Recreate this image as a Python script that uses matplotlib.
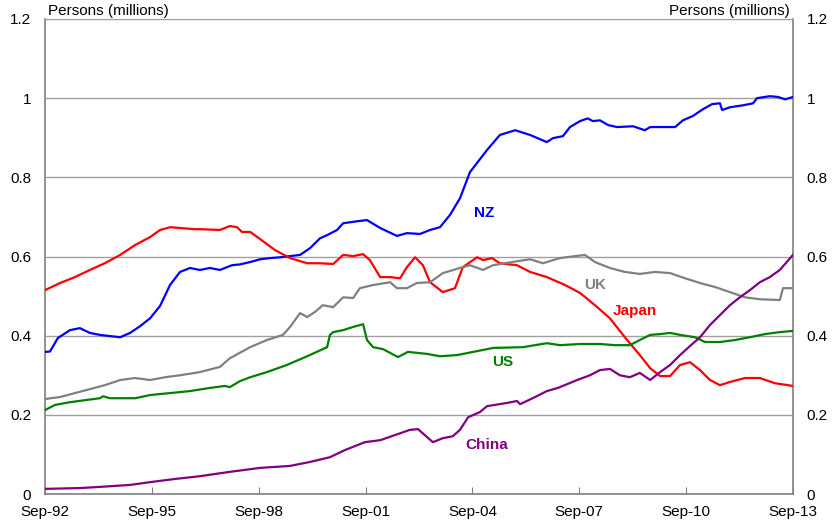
"""
Chart: persons (millions) by country of birth, Sep-92 to Sep-13.
Outputs: out.png
"""

import matplotlib.pyplot as plt

# ── Data (decimal years, millions of persons) ─────────────────────────────────
NZ_T = [1992.75, 1992.89, 1993.11, 1993.45, 1993.73, 1994.01, 1994.29, 1994.57,
        1994.86, 1995.14, 1995.42, 1995.70, 1995.98, 1996.26, 1996.54, 1996.82,
        1997.10, 1997.38, 1997.66, 1998.00, 1998.22, 1998.51, 1998.79, 1999.07,
        1999.35, 1999.91, 2000.19, 2000.47, 2000.67, 2000.95, 2001.12, 2001.51,
        2001.79, 2002.16, 2002.63, 2002.91, 2003.28, 2003.56, 2003.84, 2004.12,
        2004.40, 2004.68, 2005.16, 2005.52, 2005.95, 2006.37, 2006.84, 2007.01,
        2007.29, 2007.49, 2007.77, 2007.99, 2008.13, 2008.33, 2008.56, 2008.81,
        2009.26, 2009.59, 2009.74, 2010.10, 2010.44, 2010.66, 2010.94, 2011.22,
        2011.48, 2011.70, 2011.76, 2011.98, 2012.35, 2012.63, 2012.74, 2013.10,
        2013.33, 2013.53, 2013.75]
NZ_V = [0.359, 0.360, 0.394, 0.414, 0.419, 0.407, 0.402, 0.399,
        0.396, 0.407, 0.424, 0.444, 0.475, 0.528, 0.561, 0.571,
        0.566, 0.571, 0.566, 0.578, 0.580, 0.586, 0.593, 0.596,
        0.598, 0.604, 0.621, 0.646, 0.654, 0.667, 0.684, 0.689,
        0.692, 0.672, 0.652, 0.659, 0.657, 0.667, 0.674, 0.705,
        0.747, 0.813, 0.869, 0.907, 0.919, 0.907, 0.889, 0.899,
        0.904, 0.927, 0.942, 0.949, 0.942, 0.944, 0.932, 0.927,
        0.929, 0.919, 0.927, 0.927, 0.927, 0.944, 0.955, 0.972,
        0.985, 0.987, 0.970, 0.977, 0.982, 0.987, 1.000, 1.005,
        1.003, 0.997, 1.003]

JAPAN_T = [1992.75, 1993.17, 1993.59, 1994.01, 1994.43, 1994.86, 1995.28, 1995.70,
           1995.98, 1996.26, 1996.54, 1996.96, 1997.10, 1997.66, 1997.94, 1998.14,
           1998.28, 1998.51, 1998.79, 1999.21, 1999.63, 2000.11, 2000.47, 2000.84,
           2001.12, 2001.40, 2001.68, 2001.87, 2002.16, 2002.44, 2002.72, 2002.91,
           2003.14, 2003.36, 2003.56, 2003.92, 2004.26, 2004.48, 2004.88, 2005.05,
           2005.30, 2005.52, 2006.00, 2006.37, 2006.84, 2007.35, 2007.77, 2008.19,
           2008.61, 2009.03, 2009.45, 2009.74, 2010.02, 2010.30, 2010.58, 2010.86,
           2011.14, 2011.42, 2011.70, 2011.98, 2012.40, 2012.82, 2013.24, 2013.75]
JAPAN_V = [0.515, 0.533, 0.548, 0.566, 0.583, 0.604, 0.629, 0.649,
           0.667, 0.674, 0.672, 0.669, 0.669, 0.667, 0.677, 0.674,
           0.662, 0.662, 0.644, 0.616, 0.596, 0.583, 0.583, 0.581,
           0.604, 0.601, 0.606, 0.591, 0.548, 0.548, 0.545, 0.573,
           0.598, 0.578, 0.535, 0.510, 0.520, 0.573, 0.598, 0.591,
           0.596, 0.583, 0.578, 0.561, 0.548, 0.528, 0.508, 0.477,
           0.444, 0.396, 0.351, 0.318, 0.298, 0.298, 0.326, 0.333,
           0.313, 0.288, 0.275, 0.283, 0.293, 0.293, 0.280, 0.273]

UK_T = [1992.75, 1993.17, 1993.59, 1994.01, 1994.43, 1994.86, 1995.28, 1995.70,
        1996.12, 1996.54, 1997.10, 1997.66, 1997.94, 1998.51, 1998.98, 1999.43,
        1999.63, 1999.91, 2000.11, 2000.33, 2000.55, 2000.84, 2001.12, 2001.40,
        2001.59, 2001.96, 2002.44, 2002.63, 2002.91, 2003.19, 2003.56, 2003.92,
        2004.40, 2004.68, 2005.05, 2005.33, 2006.00, 2006.37, 2006.73, 2007.21,
        2007.63, 2007.91, 2008.19, 2008.61, 2009.03, 2009.45, 2009.88, 2010.30,
        2010.72, 2011.14, 2011.56, 2011.98, 2012.40, 2012.82, 2013.38, 2013.47,
        2013.75]
UK_V = [0.240, 0.245, 0.255, 0.265, 0.275, 0.288, 0.293, 0.288,
        0.295, 0.300, 0.308, 0.321, 0.343, 0.371, 0.389, 0.402,
        0.422, 0.457, 0.447, 0.460, 0.477, 0.472, 0.497, 0.495,
        0.520, 0.528, 0.535, 0.520, 0.520, 0.533, 0.535, 0.558,
        0.571, 0.578, 0.566, 0.578, 0.588, 0.593, 0.583, 0.596,
        0.601, 0.604, 0.586, 0.571, 0.561, 0.556, 0.561, 0.558,
        0.545, 0.533, 0.523, 0.510, 0.497, 0.492, 0.490, 0.520,
        0.520]

US_T = [1992.75, 1993.03, 1993.45, 1993.87, 1994.29, 1994.38, 1994.57, 1995.28,
        1995.70, 1996.26, 1996.82, 1997.38, 1997.80, 1997.94, 1998.22, 1998.51,
        1998.98, 1999.54, 2000.11, 2000.67, 2000.75, 2000.84, 2001.12, 2001.40,
        2001.68, 2001.79, 2001.96, 2002.24, 2002.66, 2002.94, 2003.47, 2003.84,
        2004.32, 2004.77, 2005.33, 2006.17, 2006.84, 2007.21, 2007.77, 2008.33,
        2008.75, 2009.17, 2009.45, 2009.74, 2010.02, 2010.30, 2010.58, 2011.00,
        2011.28, 2011.70, 2012.12, 2012.54, 2012.96, 2013.38, 2013.75]
US_V = [0.212, 0.225, 0.232, 0.237, 0.242, 0.247, 0.242, 0.242,
        0.250, 0.255, 0.260, 0.268, 0.273, 0.270, 0.285, 0.295,
        0.308, 0.326, 0.348, 0.371, 0.402, 0.409, 0.414, 0.422,
        0.429, 0.389, 0.371, 0.366, 0.346, 0.359, 0.354, 0.348,
        0.351, 0.359, 0.369, 0.371, 0.381, 0.376, 0.379, 0.379,
        0.376, 0.376, 0.389, 0.402, 0.404, 0.407, 0.402, 0.396,
        0.384, 0.384, 0.389, 0.396, 0.404, 0.409, 0.412]

CHINA_T = [1992.75, 1993.73, 1994.29, 1995.14, 1995.70, 1996.40, 1997.10, 1997.94,
           1998.79, 1999.63, 2000.19, 2000.75, 2001.17, 2001.73, 2002.16, 2002.58,
           2002.99, 2003.22, 2003.64, 2003.92, 2004.20, 2004.40, 2004.63, 2004.96,
           2005.16, 2005.72, 2006.00, 2006.09, 2006.51, 2006.84, 2007.15, 2007.69,
           2008.05, 2008.33, 2008.61, 2008.89, 2009.17, 2009.45, 2009.74, 2010.02,
           2010.30, 2010.58, 2010.86, 2011.14, 2011.42, 2011.70, 2011.98, 2012.26,
           2012.54, 2012.82, 2013.10, 2013.38, 2013.75]
CHINA_V = [0.013, 0.015, 0.018, 0.023, 0.030, 0.038, 0.045, 0.056,
           0.066, 0.071, 0.081, 0.093, 0.111, 0.131, 0.136, 0.149,
           0.162, 0.164, 0.131, 0.141, 0.146, 0.162, 0.194, 0.207,
           0.222, 0.230, 0.235, 0.227, 0.245, 0.260, 0.268, 0.288,
           0.300, 0.313, 0.316, 0.300, 0.295, 0.306, 0.288, 0.308,
           0.326, 0.351, 0.374, 0.396, 0.427, 0.452, 0.477, 0.497,
           0.515, 0.535, 0.548, 0.566, 0.604]

TICK_YEARS  = [1992.75, 1995.75, 1998.75, 2001.75, 2004.75, 2007.75, 2010.75, 2013.75]
TICK_LABELS = ["Sep-92", "Sep-95", "Sep-98", "Sep-01", "Sep-04", "Sep-07",
               "Sep-10", "Sep-13"]
Y_TICKS     = [0, 0.2, 0.4, 0.6, 0.8, 1.0, 1.2]
Y_LABELS    = ["0", "0.2", "0.4", "0.6", "0.8", "1", "1.2"]

SERIES = [
    ("NZ",    NZ_T,    NZ_V,    "#0000FF", (2005.07, 0.710)),
    ("Japan", JAPAN_T, JAPAN_V, "#FF0000", (2009.31, 0.462)),
    ("UK",    UK_T,    UK_V,    "#808080", (2008.19, 0.528)),
    ("US",    US_T,    US_V,    "#008000", (2005.61, 0.333)),
    ("China", CHINA_T, CHINA_V, "#800080", (2005.16, 0.124)),
]

# ── Plot ──────────────────────────────────────────────────────────────────────
plt.rcParams["font.family"] = ["Liberation Sans", "DejaVu Sans"]

fig = plt.figure(figsize=(8.32, 5.26), dpi=100)
ax = fig.add_axes([0.0541, 0.0608, 0.899, 0.9031])

for name, t, v, col, (lx, ly) in SERIES:
    ax.plot(t, v, color=col, lw=1.6, zorder=3)
    ax.text(lx, ly, name, color=col, fontsize=11, fontweight="bold",
            ha="center", va="center")

ax.set_xlim(TICK_YEARS[0], TICK_YEARS[-1])
ax.set_ylim(0, 1.2)
ax.set_xticks(TICK_YEARS)
ax.set_xticklabels(TICK_LABELS, fontsize=11)
ax.set_yticks(Y_TICKS)
ax.set_yticklabels(Y_LABELS, fontsize=11)
ax.tick_params(axis="x", direction="in", length=5, color="#808080", pad=8)
ax.tick_params(axis="y", length=0, pad=10, labelright=True, right=False)
ax.grid(axis="y", color="#a0a0a0", lw=1.0)

for side in ["left", "right", "bottom"]:
    ax.spines[side].set_color("#808080")
    ax.spines[side].set_linewidth(1.2)
ax.spines["top"].set_color("#a0a0a0")

ax.text(0.004, 1.003, "Persons (millions)", transform=ax.transAxes,
        fontsize=11, ha="left", va="bottom")
ax.text(0.996, 1.003, "Persons (millions)", transform=ax.transAxes,
        fontsize=11, ha="right", va="bottom")

plt.savefig("out.png", dpi=100)
plt.close()
